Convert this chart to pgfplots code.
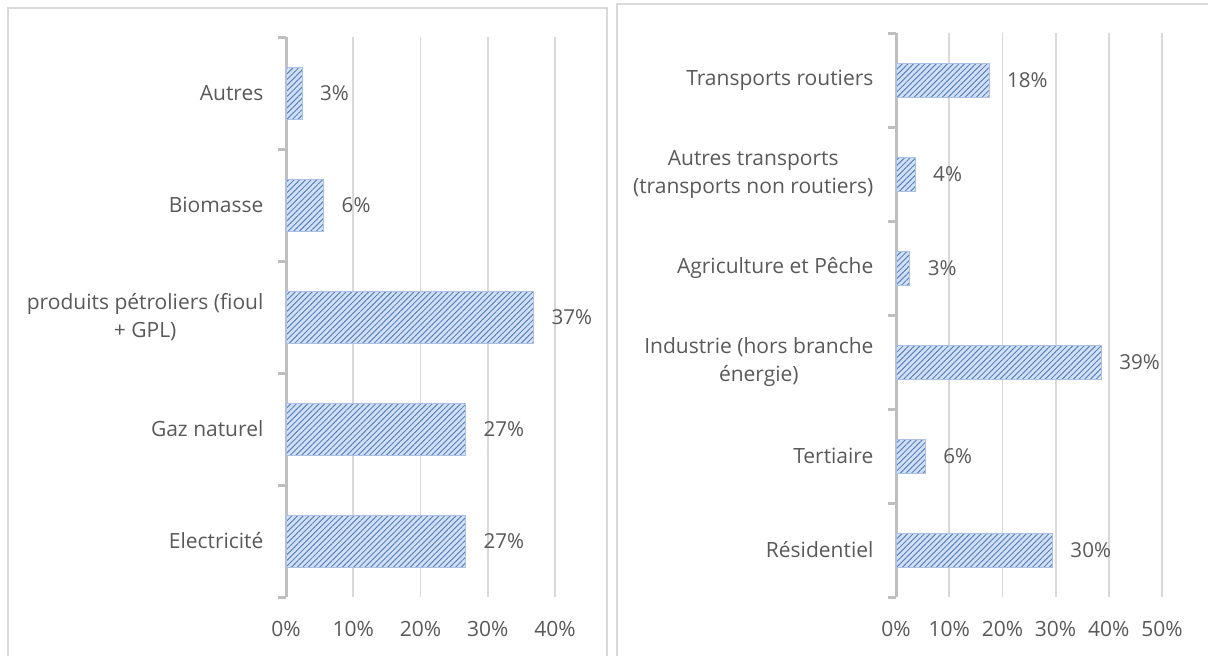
\documentclass[border=0pt]{standalone}
\usepackage{fontspec}
\setmainfont{Open Sans}
\usepackage{pgfplots}
\pgfplotsset{compat=1.18}
\usetikzlibrary{patterns.meta}
\definecolor{txtgrey}{HTML}{595959}
\definecolor{gridgrey}{HTML}{D9D9D9}
\definecolor{axgrey}{HTML}{BFBFBF}
\definecolor{barfill}{RGB}{212,224,243}
\definecolor{barline}{RGB}{85,130,205}
\definecolor{baredge}{RGB}{170,192,228}
\pgfplotsset{
  hbar/.style={
    scale only axis, xbar, xmin=0,
    /pgf/number format/assume math mode=true,
    axis y line*=left, axis x line*=bottom,
    x axis line style={draw=none},
    y axis line style={-, line width=1.5pt, color=axgrey},
    xmajorgrids, grid style={gridgrey, line width=0.9pt},
    xtick style={draw=none}, major y tick style={draw=none},
    minor y tick style={axgrey, line width=1.5pt},
    minor tick length=4pt, tick align=outside,
    font=\fontsize{10.5}{14}\selectfont, color=txtgrey,
    tick label style={txtgrey},
    yticklabel style={align=center, xshift=-3.5pt},
    xticklabel style={yshift=-4.5pt},
    point meta=explicit symbolic,
    nodes near coords,
    nodes near coords style={anchor=west, xshift=5.5pt, txtgrey, font=\fontsize{10.3}{12}\selectfont},
  },
  hatched/.style={fill=barfill, draw=baredge, line width=0.4pt, bar shift=0pt,
    postaction={pattern={Lines[angle=45, distance=2pt, line width=0.5pt]}, pattern color=barline}},
}
\begin{document}
\begin{tikzpicture}
\path[use as bounding box] (0,0) rectangle (604pt,-327.5pt);
\draw[gridgrey, line width=1pt] (4pt,-330pt) -- (4pt,-4pt) -- (303.5pt,-4pt) -- (303.5pt,-330pt);
\draw[gridgrey, line width=1pt] (308.5pt,-330pt) -- (308.5pt,-2pt) -- (606pt,-2pt);

\begin{axis}[hbar, at={(143pt,-298.5pt)}, anchor=south west,
  width=134.5pt, height=280pt, xmax=40,
  xtick={0,10,20,30,40}, xticklabels={0\%,10\%,20\%,30\%,40\%},
  ymin=-0.5, ymax=4.5, ytick={0,1,2,3,4},
  minor ytick={-0.5,0.5,1.5,2.5,3.5,4.5},
  yticklabels={Electricité, Gaz naturel, {produits pétroliers (fioul\\+ GPL)}, Biomasse, Autres},
  bar width=26pt]
\addplot[hatched] coordinates {(26.7,0) [27\%] (26.7,1) [27\%] (36.8,2) [37\%] (5.6,3) [6\%] (2.4,4) [3\%]};
\end{axis}

\begin{axis}[hbar, at={(448pt,-298.5pt)}, anchor=south west,
  width=133pt, height=282pt, xmax=50,
  xtick={0,10,20,30,40,50}, xticklabels={0\%,10\%,20\%,30\%,40\%,50\%},
  ymin=-0.5, ymax=5.5, ytick={0,1,2,3,4,5},
  minor ytick={-0.5,0.5,1.5,2.5,3.5,4.5,5.5},
  yticklabels={Résidentiel, Tertiaire, {Industrie (hors branche\\énergie)}, Agriculture et Pêche, {Autres transports\\(transports non routiers)}, Transports routiers},
  bar width=17pt]
\addplot[hatched] coordinates {(29.4,0) [30\%] (5.5,1) [6\%] (38.6,2) [39\%] (2.6,3) [3\%] (3.6,4) [4\%] (17.5,5) [18\%]};
\end{axis}
\end{tikzpicture}
\end{document}
